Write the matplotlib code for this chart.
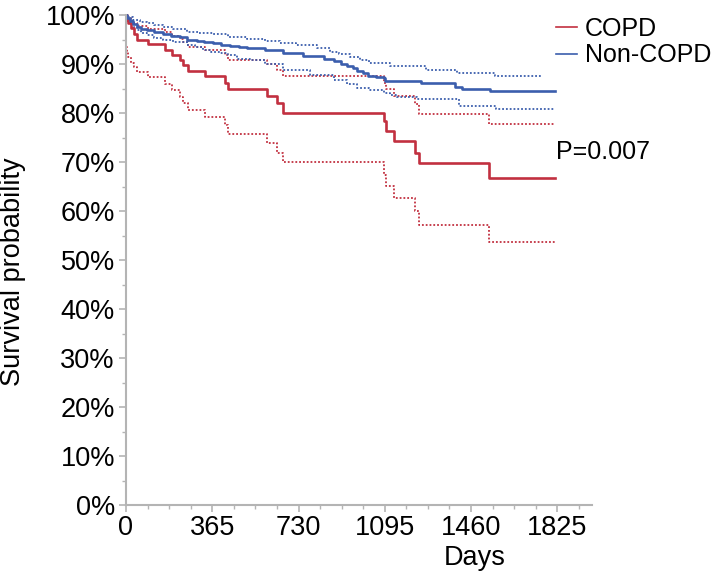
import matplotlib
matplotlib.use("Agg")
import matplotlib.pyplot as plt
from matplotlib.lines import Line2D
from matplotlib.ticker import MultipleLocator, FuncFormatter

# ---- data ----
red_t  = [0, 3, 8, 20, 35, 45, 94, 165, 193, 228, 242, 264, 334, 419, 433, 596, 638, 663,
          1090, 1100, 1132, 1223, 1241, 1538, 1815]
red_s  = [1.0, 0.990, 0.983, 0.973, 0.962, 0.950, 0.940, 0.929, 0.918, 0.908, 0.898, 0.886,
          0.876, 0.862, 0.848, 0.835, 0.820, 0.800, 0.783, 0.763, 0.743, 0.719, 0.697, 0.668, 0.668]
red_hi = [1.0, 0.997, 0.993, 0.988, 0.984, 0.978, 0.972, 0.965, 0.958, 0.951, 0.944, 0.935,
          0.928, 0.918, 0.909, 0.900, 0.888, 0.876, 0.862, 0.848, 0.834, 0.818, 0.798, 0.777, 0.777]
red_lo = [0.935, 0.925, 0.915, 0.903, 0.893, 0.884, 0.873, 0.860, 0.847, 0.833, 0.821, 0.806,
          0.791, 0.776, 0.758, 0.738, 0.718, 0.701, 0.673, 0.652, 0.627, 0.599, 0.571, 0.536, 0.536]

blue_t = [0, 5, 17, 30, 45, 65, 87, 120, 158, 190, 228, 260, 299, 330, 370, 400, 440, 480, 511,
          590, 663, 748, 836, 879, 910, 935, 960, 977, 1004, 1025, 1060, 1090, 1096, 1250, 1391,
          1420, 1539, 1815]
blue_s = [1.0, 0.993, 0.987, 0.982, 0.976, 0.972, 0.969, 0.965, 0.962, 0.958, 0.955, 0.950, 0.946,
          0.944, 0.942, 0.939, 0.937, 0.935, 0.933, 0.929, 0.923, 0.916, 0.911, 0.906, 0.901, 0.895,
          0.891, 0.886, 0.881, 0.875, 0.873, 0.871, 0.866, 0.862, 0.854, 0.850, 0.845, 0.845]

blue_hi_t = [0, 10, 31, 60, 87, 120, 158, 200, 257, 310, 370, 430, 511, 590, 650, 720, 807, 864,
             900, 950, 990, 1030, 1116, 1270, 1400, 1560, 1760]
blue_hi = [1.0, 0.995, 0.990, 0.986, 0.983, 0.980, 0.976, 0.971, 0.966, 0.963, 0.961, 0.956, 0.952,
           0.947, 0.942, 0.938, 0.932, 0.925, 0.920, 0.914, 0.908, 0.903, 0.895, 0.888, 0.882,
           0.876, 0.876]

blue_lo_t = [0, 5, 15, 30, 45, 65, 87, 120, 158, 200, 257, 290, 327, 360, 398, 430, 469, 525, 590,
             663, 780, 880, 935, 977, 1030, 1090, 1118, 1146, 1230, 1411, 1565, 1815]
blue_lo = [1.0, 0.990, 0.983, 0.976, 0.969, 0.964, 0.959, 0.954, 0.949, 0.944, 0.939, 0.934, 0.929,
           0.925, 0.922, 0.918, 0.911, 0.908, 0.901, 0.888, 0.878, 0.867, 0.860, 0.852, 0.846,
           0.841, 0.837, 0.833, 0.828, 0.814, 0.808, 0.808]

labels = ["COPD", "Non-COPD"]
p_text = "P=0.007"
x_ticks = [0, 365, 730, 1095, 1460, 1825]

RED = "#C23040"
BLUE = "#3B5EAD"
GRAY = "#B4B4B4"

plt.rcParams['font.family'] = ['Liberation Sans', 'DejaVu Sans']

fig = plt.figure(figsize=(7.12, 5.82), dpi=100)
ax = fig.add_axes([126/712, 77/582, 466/712, 490/582])

dot = (0, (1, 1.1))
ax.plot(red_t, red_hi, drawstyle='steps-post', color=RED, lw=1.3, ls=dot, clip_on=False)
ax.plot(red_t, red_lo, drawstyle='steps-post', color=RED, lw=1.3, ls=dot, clip_on=False)
ax.plot(blue_hi_t, blue_hi, drawstyle='steps-post', color=BLUE, lw=1.3, ls=dot, clip_on=False)
ax.plot(blue_lo_t, blue_lo, drawstyle='steps-post', color=BLUE, lw=1.3, ls=dot, clip_on=False)
ax.plot(red_t, red_s, drawstyle='steps-post', color=RED, lw=1.9, clip_on=False)
ax.plot(blue_t, blue_s, drawstyle='steps-post', color=BLUE, lw=1.9, clip_on=False)

ax.set_xlim(0, 1972)
ax.set_ylim(0, 1.0)
ax.set_xticks(x_ticks)
ax.set_xticklabels([str(v) for v in x_ticks])
ax.xaxis.set_minor_locator(MultipleLocator(91.25))
ax.yaxis.set_major_locator(MultipleLocator(0.1))
ax.yaxis.set_minor_locator(MultipleLocator(0.05))
ax.yaxis.set_major_formatter(FuncFormatter(lambda v, p: f"{int(round(v*100))}%"))

for s in ['top', 'right']:
    ax.spines[s].set_visible(False)
for s in ['left', 'bottom']:
    ax.spines[s].set_color(GRAY)
    ax.spines[s].set_linewidth(1.5)

ax.tick_params(axis='both', which='major', direction='out', length=5, width=1.2,
               color=GRAY, labelsize=19.5, labelcolor='black')
ax.tick_params(axis='y', which='major', pad=3)
ax.tick_params(axis='x', which='major', pad=2)
ax.tick_params(axis='both', which='minor', direction='out', length=3, width=1.0, color=GRAY)

ax.set_xlabel("Days", fontsize=19.5, labelpad=2)
ax.xaxis.set_label_coords((475 - 126) / 466, -0.082)
ax.set_ylabel("Survival probability", fontsize=19.5)
ax.yaxis.set_label_coords(-0.215, 0.476)

handles = [Line2D([], [], color=RED, lw=1.2), Line2D([], [], color=BLUE, lw=1.2)]
fig.legend(handles, labels, loc='upper left', bbox_to_anchor=(556/712, 1 - 17/582),
           frameon=False, fontsize=18, handlelength=0.85, handletextpad=0.3,
           labelspacing=0.1, borderpad=0, borderaxespad=0)

fig.text(556/712, 1 - 152/582, p_text, fontsize=18, ha='left', va='center')

fig.savefig("out.png", dpi=100)
